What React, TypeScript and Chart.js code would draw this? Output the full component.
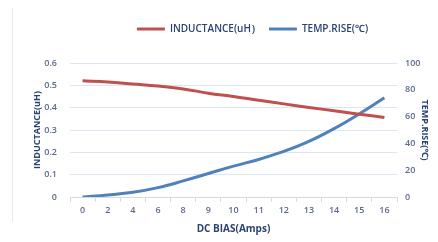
import React, { useEffect, useRef } from "react";
import { Chart, registerables } from "chart.js";

Chart.register(...registerables);

const categories = ["0", "2", "4", "6", "8", "9", "10", "11", "12", "13", "14", "15", "16"];
const inductance = [0.52, 0.515, 0.506, 0.497, 0.484, 0.465, 0.45, 0.433, 0.417, 0.401, 0.386, 0.371, 0.356];
const tempRise = [0, 1.5, 3.5, 7, 12, 17.5, 23, 28, 34, 41.5, 51, 62, 74];
const leftTicks = [0, 0.1, 0.2, 0.3, 0.4, 0.5, 0.6];
const rightTicks = [0, 20, 40, 60, 80, 100];

const tickColor = "#5b6b8a";
const titleColor = "#2a4373";
const gridColor = "#dce6f2";
const fontFamily = "'Open Sans', 'Noto Sans', sans-serif";

const legendTweak = {
  id: "legendTweak",
  beforeLayout(chart: any) {
    const lg = chart.legend;
    if (!lg || lg._tweaked) return;
    lg._tweaked = true;
    const fit = lg.fit;
    lg.fit = function () {
      fit.call(this);
      this.height = 47;
    };
    const draw = lg.draw;
    lg.draw = function (...args: any[]) {
      const ctx = chart.ctx;
      ctx.save();
      ctx.translate(21, 0);
      draw.apply(this, args);
      ctx.restore();
    };
  },
};

export default function App() {
  const ref = useRef<HTMLCanvasElement | null>(null);
  useEffect(() => {
    if (!ref.current) return;
    const chart = new Chart(ref.current, {
      type: "line",
      data: {
        labels: categories,
        datasets: [
          {
            label: "INDUCTANCE(uH）",
            data: inductance,
            borderColor: "#c0504d",
            backgroundColor: "#c0504d",
            borderWidth: 3,
            pointRadius: 0,
            tension: 0.4,
            yAxisID: "y",
          },
          {
            label: "TEMP.RISE(℃)",
            data: tempRise,
            borderColor: "#4f81bd",
            backgroundColor: "#4f81bd",
            borderWidth: 3,
            pointRadius: 0,
            tension: 0.4,
            yAxisID: "y1",
          },
        ],
      },
      plugins: [legendTweak],
      options: {
        animation: false,
        responsive: false,
        maintainAspectRatio: false,
        layout: { padding: { left: 31, right: 6, top: 16, bottom: 7 } },
        plugins: {
          tooltip: { enabled: false },
          legend: {
            position: "top",
            labels: {
              usePointStyle: true,
              pointStyle: "line",
              pointStyleWidth: 28,
              boxWidth: 28,
              boxHeight: 10,
              padding: 8,
              color: titleColor,
              font: { family: fontFamily, size: 10, weight: "600" },
            },
          },
        },
        scales: {
          x: {
            offset: true,
            afterFit: (s: any) => {
              s.height = 38;
            },
            grid: {
              display: true,
              drawOnChartArea: false,
              drawTicks: true,
              tickLength: 5,
              color: "#d9d9d9",
              offset: true,
            },
            border: { display: true, color: "#d9d9d9" },
            ticks: {
              color: tickColor,
              font: { family: fontFamily, size: 9, weight: "600" },
              padding: 3,
              maxRotation: 0,
            },
            title: {
              display: true,
              text: "DC BIAS(Amps)",
              color: titleColor,
              font: { family: fontFamily, size: 10, weight: "700" },
              padding: { top: 2, bottom: 0 },
            },
          },
          y: {
            position: "left",
            min: 0,
            max: 0.6,
            afterFit: (s: any) => {
              s.width = 39;
            },
            afterBuildTicks: (axis: any) => {
              axis.ticks = leftTicks.map((v) => ({ value: v }));
            },
            grid: { color: gridColor, drawTicks: false },
            border: { display: false },
            ticks: {
              color: tickColor,
              font: { family: fontFamily, size: 9, weight: "600" },
              padding: 13,
              callback: (v: any) => String(v),
            },
            title: {
              display: true,
              text: "INDUCTANCE(uH)",
              color: titleColor,
              font: { family: fontFamily, size: 9, weight: "700" },
              padding: 1,
            },
          },
          y1: {
            position: "right",
            min: 0,
            max: 100,
            afterFit: (s: any) => {
              s.width = 35;
            },
            afterBuildTicks: (axis: any) => {
              axis.ticks = rightTicks.map((v) => ({ value: v }));
            },
            grid: { drawOnChartArea: false, drawTicks: false },
            border: { display: false },
            ticks: {
              color: tickColor,
              font: { family: fontFamily, size: 9, weight: "600" },
              padding: 8,
            },
            title: {
              display: true,
              text: "TEMP.RISE(℃)",
              color: titleColor,
              font: { family: fontFamily, size: 9, weight: "700" },
              padding: 2,
            },
          },
        },
      },
    });
    return () => chart.destroy();
  }, []);
  return (
    <div style={{ position: "fixed", left: 0, top: 0, width: 438, height: 242, background: "#fff" }}>
      <div style={{ position: "absolute", left: 12, top: 8, bottom: 20, borderLeft: "1px solid #e3ebf5" }} />
      <canvas ref={ref} width={438} height={242} style={{ position: "absolute", left: 0, top: 0 }} />
    </div>
  );
}
